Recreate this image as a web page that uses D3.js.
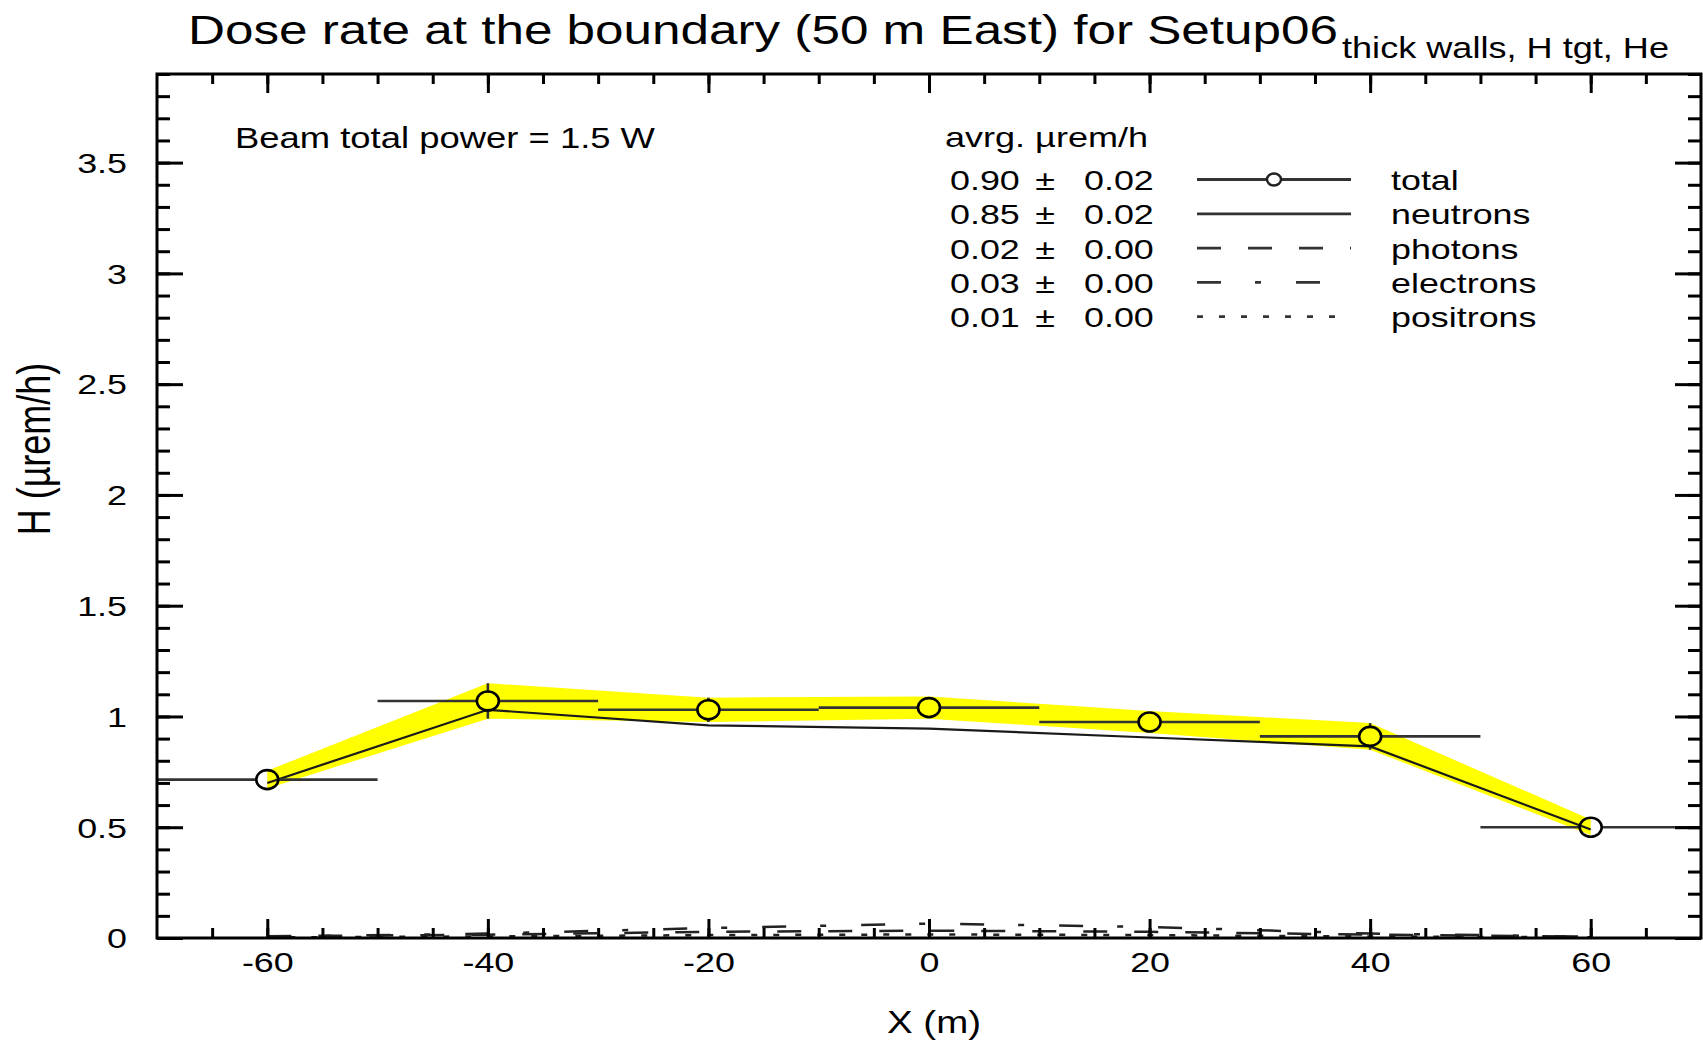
<!DOCTYPE html>
<html>
<head>
<meta charset="utf-8">
<script src="https://cdn.jsdelivr.net/npm/d3@7"></script>
<style>
  html, body { margin: 0; padding: 0; background: #fff; }
  svg { display: block; }
  text { font-family: "Liberation Sans", Arial, Helvetica, sans-serif; fill: #000; }
</style>
</head>
<body>
<svg id="chart" width="1703" height="1047"></svg>
<script>
// ---- data -------------------------------------------------------------
const xBins      = [-60, -40, -20, 0, 20, 40, 60];   // bin centres (m)
const binHalf    = 10;                                // half bin width (m)
const total      = [0.715, 1.07, 1.03, 1.04, 0.975, 0.91, 0.50];
const totalErr   = [0.04, 0.08, 0.055, 0.05, 0.05, 0.06, 0.035];
const neutrons   = [0.70, 1.03, 0.96, 0.945, 0.905, 0.865, 0.49];
const photons    = [0.008, 0.015, 0.028, 0.033, 0.028, 0.015, 0.006];
const electrons  = [0.006, 0.02, 0.045, 0.065, 0.05, 0.02, 0.006];
const positrons  = [0.003, 0.007, 0.013, 0.016, 0.013, 0.007, 0.003];

const xTickLabels = [-60, -40, -20, 0, 20, 40, 60];
const yTickLabels = [0, 0.5, 1, 1.5, 2, 2.5, 3, 3.5];

const legendNames = ["total", "neutrons", "photons", "electrons", "positrons"];
const legendAvg   = ["0.90", "0.85", "0.02", "0.03", "0.01"];
const legendErr   = ["0.02", "0.02", "0.00", "0.00", "0.00"];

const titleMain = "Dose rate at the boundary (50 m East) for Setup06";
const titleSub  = "thick walls, H tgt, He";
const beamNote  = "Beam total power = 1.5 W";

// ---- layout -----------------------------------------------------------
const plot = { left: 157, right: 1701, top: 74, bottom: 938 };
const SX = 1.28;   // horizontal stretch of the lettering

const svg = d3.select("#chart");

const x = d3.scaleLinear().domain([-70, 70]).range([plot.left, plot.right]);
const y = d3.scaleLinear().domain([0, 3.9]).range([plot.bottom, plot.top]);

// widen text horizontally, keeping its anchor point
function stretch(sel, sx, fixedWidth) {
  sel.each(function () {
    const t = d3.select(this);
    const anchor = getComputedStyle(this).textAnchor || "start";
    const w = this.getComputedTextLength();
    const nw = fixedWidth || w * sx;
    const x0 = +t.attr("x") || 0;
    let xs = x0;
    if (anchor === "middle") xs = x0 - nw / 2;
    else if (anchor === "end") xs = x0 - nw;
    t.attr("text-anchor", "start").style("text-anchor", "start")
     .attr("x", xs).attr("textLength", nw).attr("lengthAdjust", "spacingAndGlyphs");
  });
}

// plain hyphen for negative numbers
const plainFmt = d => String(d);

// ---- uncertainty band --------------------------------------------------
const pts = xBins.map((d, i) => ({ x: d, v: total[i], e: totalErr[i], n: neutrons[i],
  ph: photons[i], el: electrons[i], po: positrons[i] }));

svg.append("path")
  .datum(pts)
  .attr("d", d3.area().x(d => x(d.x)).y0(d => y(d.v - d.e)).y1(d => y(d.v + d.e)))
  .attr("fill", "#ffff00");

// ---- component lines --------------------------------------------------
const lineOf = key => d3.line().x(d => x(d.x)).y(d => y(d[key]));

svg.append("path").datum(pts).attr("d", lineOf("n"))
  .attr("fill", "none").attr("stroke", "#1a1a1a").attr("stroke-width", 2.2);

const dashPhot = "24 27", dashElec = "24 34 6 35", dashPos = "6 16";
[["ph", dashPhot], ["el", dashElec], ["po", dashPos]].forEach(([k, dash]) => {
  svg.append("path").datum(pts).attr("d", lineOf(k))
    .attr("fill", "none").attr("stroke", "#222").attr("stroke-width", 2.5)
    .attr("stroke-dasharray", dash);
});

// ---- total: error bars + hollow markers --------------------------------
const RX = 11, RY = 9.5;
const eb = svg.append("g").attr("stroke", "#333").attr("stroke-width", 2.6).attr("fill", "none");
pts.forEach(d => {
  const cx = x(d.x), cy = y(d.v);
  eb.append("line").attr("x1", x(d.x - binHalf)).attr("x2", cx - RX).attr("y1", cy).attr("y2", cy);
  eb.append("line").attr("x1", cx + RX).attr("x2", x(d.x + binHalf)).attr("y1", cy).attr("y2", cy);
  const top = y(d.v + d.e), bot = y(d.v - d.e);
  if (top < cy - RY - 2) eb.append("line").attr("x1", cx).attr("x2", cx).attr("y1", top).attr("y2", cy - RY);
  if (bot > cy + RY + 2) eb.append("line").attr("x1", cx).attr("x2", cx).attr("y1", cy + RY).attr("y2", bot);
});
svg.append("g").selectAll("ellipse").data(pts).join("ellipse")
  .attr("cx", d => x(d.x)).attr("cy", d => y(d.v)).attr("rx", RX).attr("ry", RY)
  .attr("fill", "none").attr("stroke", "#000").attr("stroke-width", 2.6);

// ---- axes (ticks inside the frame) ------------------------------------
const yMinor = d3.range(0, 3.9001, 0.1).map(v => +v.toFixed(1));
const xMinor = d3.range(-65, 66, 5);

function axisStyle(g) {
  g.select(".domain").remove();
  g.selectAll(".tick line").attr("stroke", "#000").attr("stroke-width", 3);
  g.selectAll("text").attr("font-size", 28).attr("fill", "#000");
}

// left
svg.append("g").attr("transform", `translate(${plot.left},0)`)
  .call(d3.axisLeft(y).tickValues(yMinor).tickSize(-13).tickFormat(""))
  .call(axisStyle);
const yAx = svg.append("g").attr("transform", `translate(${plot.left},0)`)
  .call(d3.axisLeft(y).tickValues(yTickLabels).tickSize(-26).tickPadding(30).tickFormat(plainFmt))
  .call(axisStyle);
yAx.selectAll("text").attr("dy", "0.35em");
stretch(yAx.selectAll("text"), SX);

// right
svg.append("g").attr("transform", `translate(${plot.right},0)`)
  .call(d3.axisRight(y).tickValues(yMinor).tickSize(-13).tickFormat(""))
  .call(axisStyle);
svg.append("g").attr("transform", `translate(${plot.right},0)`)
  .call(d3.axisRight(y).tickValues(yTickLabels).tickSize(-26).tickFormat(""))
  .call(axisStyle);

// bottom
svg.append("g").attr("transform", `translate(0,${plot.bottom})`)
  .call(d3.axisBottom(x).tickValues(xMinor).tickSize(-10).tickFormat(""))
  .call(axisStyle);
const xAx = svg.append("g").attr("transform", `translate(0,${plot.bottom})`)
  .call(d3.axisBottom(x).tickValues(xTickLabels).tickSize(-19).tickPadding(14).tickFormat(plainFmt))
  .call(axisStyle);
xAx.selectAll("text").attr("dy", "0.71em");
stretch(xAx.selectAll("text"), SX);

// top
svg.append("g").attr("transform", `translate(0,${plot.top})`)
  .call(d3.axisTop(x).tickValues(xMinor).tickSize(-10).tickFormat(""))
  .call(axisStyle);
svg.append("g").attr("transform", `translate(0,${plot.top})`)
  .call(d3.axisTop(x).tickValues(xTickLabels).tickSize(-19).tickFormat(""))
  .call(axisStyle);

// frame
svg.append("rect")
  .attr("x", plot.left).attr("y", plot.top)
  .attr("width", plot.right - plot.left).attr("height", plot.bottom - plot.top)
  .attr("fill", "none").attr("stroke", "#000").attr("stroke-width", 3);

// ---- titles ------------------------------------------------------------
const tMain = svg.append("text").attr("x", 188).attr("y", 44).attr("font-size", 40).text(titleMain);
stretch(tMain, SX, 1150);
const tSub = svg.append("text").attr("x", 1342).attr("y", 58).attr("font-size", 29).text(titleSub);
stretch(tSub, SX, 327);

const xLab = svg.append("text").attr("x", 934).attr("y", 1033).attr("font-size", 31)
  .attr("text-anchor", "middle").text("X (m)");
stretch(xLab, SX, 94);

svg.append("g").attr("transform", `translate(50,449) scale(${SX},1) rotate(-90)`)
  .append("text").attr("text-anchor", "middle").attr("font-size", 36).text("H (\u00b5rem/h)");

const beam = svg.append("text").attr("x", 235).attr("y", 148).attr("font-size", 29).text(beamNote);
stretch(beam, SX, 420);

// ---- legend -----------------------------------------------------------
const hdr = svg.append("text").attr("x", 945).attr("y", 147).attr("font-size", 28).text("avrg. \u00b5rem/h");
stretch(hdr, SX, 203);

const rowY0 = 190, rowDY = 34.3;
const lineX1 = 1197, lineX2 = 1351;
const dashes = [null, null, dashPhot, dashElec, dashPos];
legendNames.forEach((name, i) => {
  const by = rowY0 + i * rowDY;
  const ly = by - 10.5;
  const g = svg.append("g");
  stretch(g.append("text").attr("x", 950).attr("y", by).attr("font-size", 28).text(legendAvg[i]), SX);
  stretch(g.append("text").attr("x", 1045).attr("y", by).attr("font-size", 28).attr("text-anchor", "middle").text("\u00b1"), SX);
  stretch(g.append("text").attr("x", 1084).attr("y", by).attr("font-size", 28).text(legendErr[i]), SX);
  stretch(g.append("text").attr("x", 1391).attr("y", by).attr("font-size", 28).text(name), SX);
  const ln = g.append("line").attr("x1", lineX1).attr("x2", lineX2).attr("y1", ly).attr("y2", ly)
    .attr("stroke", "#333").attr("stroke-width", 2.8);
  if (dashes[i]) ln.attr("stroke-dasharray", dashes[i]);
  if (i === 0) {
    g.append("ellipse").attr("cx", (lineX1 + lineX2) / 2).attr("cy", ly).attr("rx", 7).attr("ry", 6)
      .attr("fill", "#fff").attr("stroke", "#222").attr("stroke-width", 2.4);
  }
});
</script>
</body>
</html>
